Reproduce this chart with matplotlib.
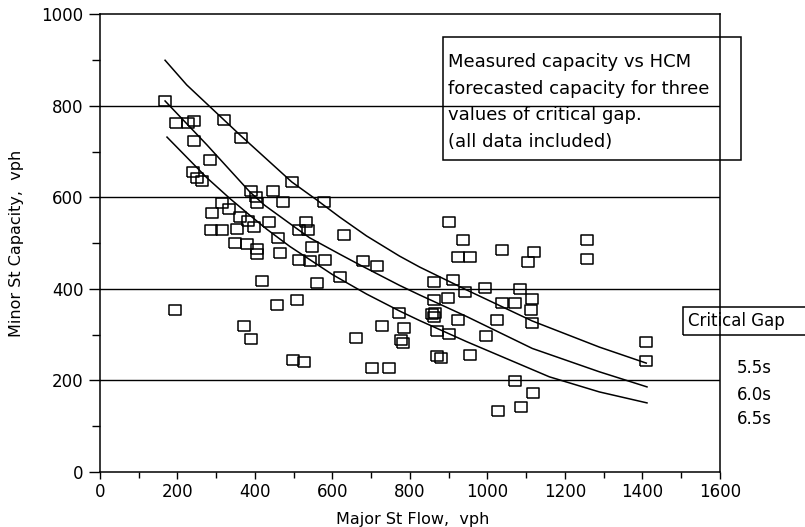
import numpy as np
import matplotlib
matplotlib.use("Agg")
import matplotlib.pyplot as plt
from matplotlib.patches import Rectangle

# measured capacity points (major st flow, minor st capacity), vph
flow = [167, 196, 227, 242, 320, 363, 242, 284, 240, 250, 263, 495, 389, 446,
        402, 405, 472, 577, 314, 332, 289, 361, 381, 436, 531, 286, 314, 353,
        397, 513, 536, 629, 459, 348, 379, 405, 405, 464, 546, 678, 716, 515,
        541, 582, 418, 559, 619, 456, 508, 371, 389, 497, 526, 662, 727, 771,
        784, 778, 781, 701, 745, 193,
        900, 938, 923, 954, 1039, 1121, 1106, 1258, 1258, 861, 912, 941, 995,
        1085, 861, 899, 1039, 1070, 1116, 1113, 858, 863, 866, 923, 1026, 1116,
        871, 902, 997, 869, 881, 956, 1072, 1119, 1088, 1028, 1410, 1410]
capacity = [810, 762, 762, 768, 770, 731, 724, 683, 655, 642, 635, 633, 614, 615,
            601, 588, 590, 591, 589, 574, 567, 558, 549, 546, 547, 530, 530, 532,
            535, 528, 528, 517, 512, 501, 498, 487, 476, 479, 492, 462, 451, 464,
            462, 464, 418, 413, 426, 366, 375, 318, 291, 245, 241, 293, 319, 348,
            315, 289, 282, 228, 228, 353,
            546, 507, 470, 470, 485, 481, 459, 507, 466, 415, 420, 393, 402,
            400, 376, 380, 369, 369, 378, 354, 345, 338, 348, 332, 332, 326,
            308, 302, 297, 254, 249, 256, 199, 173, 142, 133, 284, 242]

# HCM forecast curves
gap55_x = [168, 224, 361, 495, 559, 619, 688, 773, 825, 946, 1116, 1289, 1410]
gap55_y = [900, 846, 737, 634, 595, 557, 516, 472, 448, 398, 330, 273, 238]
gap60_x = [168, 276, 387, 425, 508, 541, 619, 670, 773, 825, 946, 1116, 1289, 1412]
gap60_y = [811, 715, 612, 583, 532, 512, 476, 453, 408, 387, 340, 270, 219, 186]
gap65_x = [173, 276, 335, 387, 430, 490, 601, 688, 773, 825, 946, 1160, 1289, 1412]
gap65_y = [732, 643, 598, 561, 531, 493, 431, 389, 352, 331, 285, 208, 175, 151]

gap_labels = ["5.5s", "6.0s", "6.5s"]
note_lines = ["Measured capacity vs HCM", "forecasted capacity for three",
              "values of critical gap.", "(all data included)"]

plt.rcParams["font.family"] = "DejaVu Sans"

fig = plt.figure(figsize=(8.05, 5.27), dpi=100)
ax = fig.add_axes([0.1242, 0.1044, 0.770, 0.8681])

for gx, gy in [(gap55_x, gap55_y), (gap60_x, gap60_y), (gap65_x, gap65_y)]:
    ax.plot(gx, gy, color="black", lw=1.1, zorder=3)

rect_marker = [(-1.3, -1), (1.3, -1), (1.3, 1), (-1.3, 1), (-1.3, -1)]
ax.plot(flow, capacity, linestyle="none", marker=rect_marker, markersize=9,
        markerfacecolor="none", markeredgecolor="black", markeredgewidth=1.1,
        zorder=4)

for yv in [200, 400, 600, 800]:
    ax.axhline(yv, color="black", lw=1.0, zorder=1)

ax.set_xlim(0, 1600)
ax.set_ylim(0, 1000)
ax.set_xticks(np.arange(0, 1601, 200))
ax.set_xticks(np.arange(0, 1601, 100), minor=True)
ax.set_yticks(np.arange(0, 1001, 200))
ax.set_yticks(np.arange(0, 1001, 100), minor=True)
ax.tick_params(which="both", direction="out", width=1.0, labelsize=12)
ax.tick_params(axis="x", which="major", length=5, pad=3)
ax.tick_params(axis="x", which="minor", length=4)
ax.tick_params(axis="y", which="major", length=8, pad=4)
ax.tick_params(axis="y", which="minor", length=6)
for sp in ax.spines.values():
    sp.set_linewidth(1.1)

ax.set_xlabel("Major St Flow,  vph", fontsize=11.5)
ax.set_ylabel("Minor St Capacity,  vph", fontsize=11.5)
ax.xaxis.set_label_coords(0.505, -0.088)
ax.yaxis.set_label_coords(-0.122, 0.5)

# description box
fig.add_artist(Rectangle((0.550, 0.696), 0.371, 0.233, transform=fig.transFigure,
                         fill=False, edgecolor="black", lw=1.1))
for line, yy in zip(note_lines, [0.882, 0.832, 0.781, 0.730]):
    fig.text(0.5565, yy, line, fontsize=13, va="center", ha="left")

# critical gap legend
fig.add_artist(Rectangle((0.848, 0.364), 0.2, 0.053, transform=fig.transFigure,
                         fill=False, edgecolor="black", lw=1.1, clip_on=False))
fig.text(0.855, 0.391, "Critical Gap", fontsize=12, va="center", ha="left")
for lab, yy in zip(gap_labels, [0.302, 0.250, 0.204]):
    fig.text(0.9155, yy, lab, fontsize=12, va="center", ha="left")

fig.savefig("out.png", dpi=100)
